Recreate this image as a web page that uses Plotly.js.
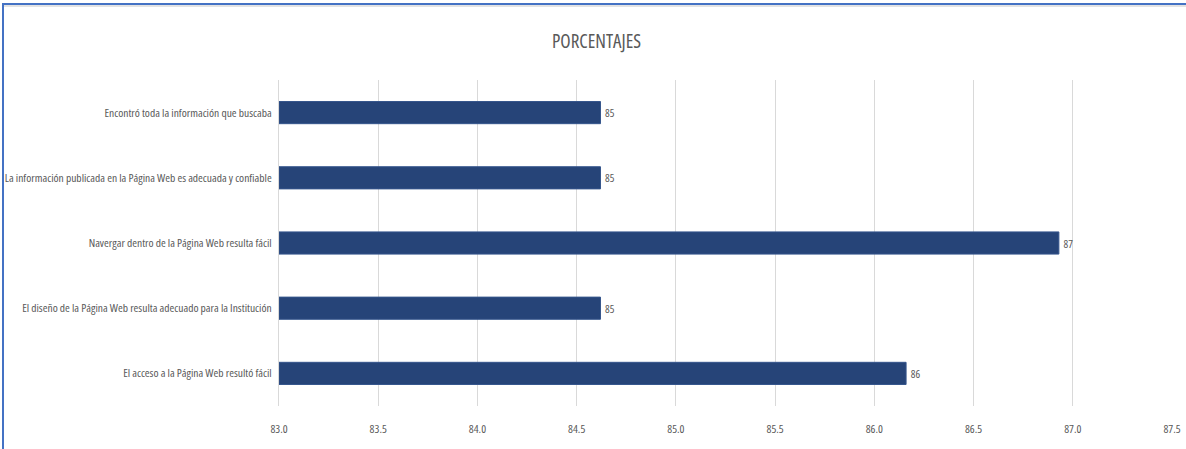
<!DOCTYPE html>
<html>
<head>
<meta charset="utf-8">
<script src="https://cdn.plot.ly/plotly-3.0.1.min.js"></script>
<style>
  html, body { margin: 0; padding: 0; background: #ffffff; }
  #wrap { position: relative; width: 1186px; height: 449px; overflow: hidden; }
  #chart { position: absolute; left: 0; top: 0; width: 1186px; height: 449px; }
  #chart svg text { font-stretch: condensed !important; }
  #frame { position: absolute; left: 2px; top: 3px; width: 1190px; height: 460px;
           border-top: 2px solid #4472c4; border-left: 2px solid #4472c4; pointer-events: none; }
  #frame2 { position: absolute; left: 4px; top: 5px; width: 1190px; height: 2px; background: #e3e3e3; pointer-events: none; }
</style>
</head>
<body>
<div id="wrap">
  <div id="chart"></div>
  <div id="frame"></div>
  <div id="frame2"></div>
</div>
<script>
// Data (top to bottom as shown)
const categories = [
  "Encontró toda la información que buscaba",
  "La información publicada en la Página Web es adecuada y confiable",
  "Navergar dentro de la Página Web resulta fácil",
  "El diseño de la Página Web resulta adecuado para la Institución",
  "El acceso a la Página Web resultó fácil"
];
const values = [84.62, 84.62, 86.93, 84.62, 86.16];
const tickValues = [83.0, 83.5, 84.0, 84.5, 85.0, 85.5, 86.0, 86.5, 87.0, 87.5];
const tickLabels = ["83.0", "83.5", "84.0", "84.5", "85.0", "85.5", "86.0", "86.5", "87.0", "87.5"];
const chartTitle = "PORCENTAJES";
const axisStart = 83;

const FONT = "'Open Sans', 'Roboto Condensed', sans-serif";

const trace = {
  type: "bar",
  orientation: "h",
  x: values.map(v => v - axisStart),
  base: axisStart,
  y: categories,
  marker: { color: "#264478", line: { color: "#35558c", width: 1 } },
  text: values.map(v => Math.round(v).toString()),
  textposition: "outside",
  textfont: { family: FONT, size: 11, color: "#595959" },
  cliponaxis: false,
  hoverinfo: "x+y"
};

const layout = {
  width: 1186,
  height: 449,
  paper_bgcolor: "#ffffff",
  plot_bgcolor: "#ffffff",
  margin: { l: 279, r: 14, t: 80, b: 43 },
  title: {
    text: chartTitle,
    font: { family: FONT, size: 19, color: "#595959" },
    x: 0.503, xanchor: "center",
    y: 0.907, yanchor: "middle"
  },
  showlegend: false,
  bargap: 0.66,
  xaxis: {
    range: [83, 87.5],
    tickvals: tickValues,
    ticktext: tickLabels,
    showgrid: true,
    gridcolor: "#d9d9d9",
    gridwidth: 1,
    zeroline: false,
    showline: false,
    ticks: "",
    ticklabelstandoff: 14,
    tickfont: { family: FONT, size: 11.5, color: "#595959" },
    fixedrange: true
  },
  yaxis: {
    type: "category",
    autorange: "reversed",
    showgrid: false,
    zeroline: false,
    showline: true,
    linecolor: "#d9d9d9",
    linewidth: 1,
    ticks: "",
    ticklabelstandoff: 4,
    tickfont: { family: FONT, size: 11.5, color: "#595959" },
    fixedrange: true
  },
  font: { family: FONT }
};

Plotly.newPlot("chart", [trace], layout, { displayModeBar: false, staticPlot: true });
</script>
</body>
</html>
